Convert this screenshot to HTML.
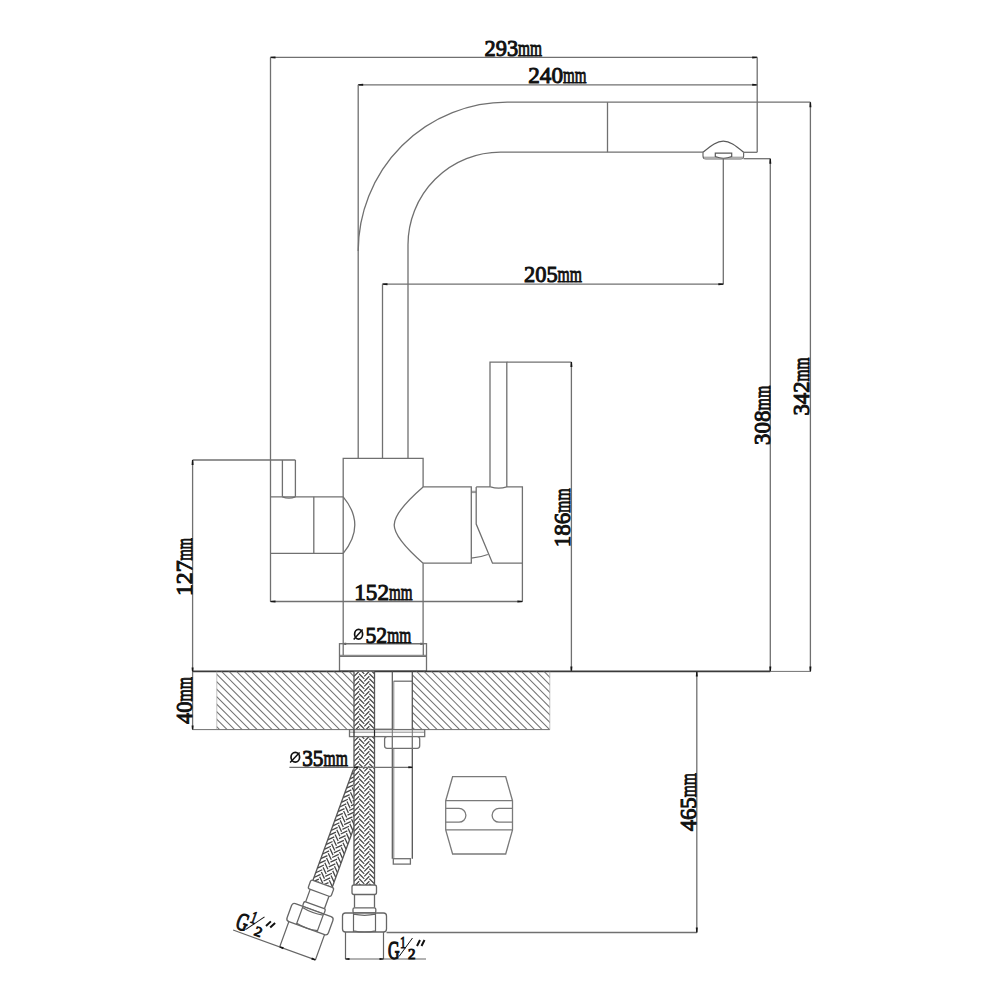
<!DOCTYPE html><html><head><meta charset="utf-8"><style>html,body{margin:0;padding:0;background:#fff;width:1000px;height:1000px;overflow:hidden}svg{display:block}text{font-family:"Liberation Serif",serif;stroke:#111;stroke-width:1.0px}</style></head><body><svg width="1000" height="1000" viewBox="0 0 1000 1000" font-family="Liberation Serif" fill="#111">
<rect width="1000" height="1000" fill="#fff"/>
<line x1="270.5" y1="57.4" x2="757.2" y2="57.4" stroke="#707070" stroke-width="1.3" />
<polygon points="270.50,56.80 275.50,56.40 275.50,58.40 270.50,58.00" fill="#151515"/>
<polygon points="757.20,56.80 752.20,56.40 752.20,58.40 757.20,58.00" fill="#151515"/>
<line x1="358.2" y1="84.8" x2="757.2" y2="84.8" stroke="#707070" stroke-width="1.3" />
<polygon points="358.20,84.20 363.20,83.80 363.20,85.80 358.20,85.40" fill="#151515"/>
<polygon points="757.20,84.20 752.20,83.80 752.20,85.80 757.20,85.40" fill="#151515"/>
<line x1="270.5" y1="57.4" x2="270.5" y2="601.5" stroke="#707070" stroke-width="1.3" />
<line x1="757.2" y1="57.4" x2="757.2" y2="152.3" stroke="#707070" stroke-width="1.3" />
<line x1="358.2" y1="84.8" x2="358.2" y2="251" stroke="#707070" stroke-width="1.3" />
<text x="484.5" y="56" font-size="24.0" textLength="33.6" lengthAdjust="spacingAndGlyphs">293</text><text x="518.1" y="56" font-size="24.0" textLength="24" lengthAdjust="spacingAndGlyphs">mm</text>
<text x="528.3" y="83.3" font-size="24.0" textLength="34.7" lengthAdjust="spacingAndGlyphs">240</text><text x="563.0" y="83.3" font-size="24.0" textLength="23.4" lengthAdjust="spacingAndGlyphs">mm</text>
<path d="M358.2,458.3 L358.2,251 A149,149 0 0 1 507.2,102.2 L810.4,102.2" stroke="#707070" stroke-width="1.3" fill="none" />
<path d="M408,458.3 L408,244.7 A92.5,92.5 0 0 1 500.5,152.2 L703,152.2" stroke="#707070" stroke-width="1.3" fill="none" />
<line x1="607.5" y1="102.2" x2="607.5" y2="152.2" stroke="#707070" stroke-width="1.3" />
<line x1="743.6" y1="152.3" x2="757.2" y2="152.3" stroke="#707070" stroke-width="1.3" />
<path d="M703,152.3 C712,145 717,141.2 723.3,141.2 C729.6,141.2 735,145 743.6,152.3" stroke="#5a5a5a" stroke-width="1.3" fill="none" />
<path d="M703,152.3 L703,156 Q703,159 706,159 L740.6,159 Q743.6,159 743.6,156 L743.6,152.3" stroke="#6a6a6a" stroke-width="1.2" fill="none" />
<rect x="704" y="156.6" width="38.6" height="2.2" rx="0" stroke="#707070" stroke-width="0" fill="#aaa"/>
<path d="M715.3,153.2 L731.7,153.2 L731.7,156.5 Q723.5,160 715.3,156.5 Z" stroke="#5a5a5a" stroke-width="1.2" fill="#fff" />
<line x1="723.3" y1="159" x2="723.3" y2="284.2" stroke="#707070" stroke-width="1.3" />
<line x1="743.6" y1="158.7" x2="770.3" y2="158.7" stroke="#707070" stroke-width="1.3" />
<line x1="382.5" y1="284.2" x2="723.3" y2="284.2" stroke="#707070" stroke-width="1.3" />
<polygon points="382.50,283.60 387.50,283.20 387.50,285.20 382.50,284.80" fill="#151515"/>
<polygon points="723.30,283.60 718.30,283.20 718.30,285.20 723.30,284.80" fill="#151515"/>
<line x1="382.5" y1="284.2" x2="382.5" y2="458.3" stroke="#707070" stroke-width="1.3" />
<text x="524" y="282.4" font-size="24.0" textLength="33.6" lengthAdjust="spacingAndGlyphs">205</text><text x="557.6" y="282.4" font-size="24.0" textLength="24.4" lengthAdjust="spacingAndGlyphs">mm</text>
<line x1="770.3" y1="158.7" x2="770.3" y2="671.5" stroke="#707070" stroke-width="1.3" />
<polygon points="769.70,158.70 769.30,163.70 771.30,163.70 770.90,158.70" fill="#151515"/>
<polygon points="769.70,671.50 769.30,666.50 771.30,666.50 770.90,671.50" fill="#151515"/>
<line x1="810.4" y1="102.2" x2="810.4" y2="671.5" stroke="#707070" stroke-width="1.3" />
<polygon points="809.80,102.20 809.40,107.20 811.40,107.20 811.00,102.20" fill="#151515"/>
<polygon points="809.80,671.50 809.40,666.50 811.40,666.50 811.00,671.50" fill="#151515"/>
<g transform="translate(769.5,445) rotate(-90)"><text x="0" y="0" font-size="24.0" textLength="34.5" lengthAdjust="spacingAndGlyphs">308</text><text x="34.5" y="0" font-size="24.0" textLength="24.8" lengthAdjust="spacingAndGlyphs">mm</text></g>
<g transform="translate(809.3,415.5) rotate(-90)"><text x="0" y="0" font-size="24.0" textLength="34" lengthAdjust="spacingAndGlyphs">342</text><text x="34" y="0" font-size="24.0" textLength="24" lengthAdjust="spacingAndGlyphs">mm</text></g>
<path d="M343.2,643.5 L343.2,458.3 L423.1,458.3 L423.1,486.9" stroke="#707070" stroke-width="1.3" fill="none" />
<path d="M423.1,563.2 L423.1,643.5" stroke="#707070" stroke-width="1.3" fill="none" />
<line x1="192.6" y1="460" x2="295.4" y2="460" stroke="#707070" stroke-width="1.3" />
<path d="M282.4,496.8 L282.4,460 M295.4,460 L295.4,496.8" stroke="#707070" stroke-width="1.3" fill="none" />
<path d="M282.4,496.8 Q289,499.5 295.4,496.8" stroke="#707070" stroke-width="1.3" fill="none" />
<line x1="270.5" y1="496.8" x2="343.2" y2="496.8" stroke="#707070" stroke-width="1.3" />
<line x1="270.5" y1="553.4" x2="343.2" y2="553.4" stroke="#707070" stroke-width="1.3" />
<line x1="313.8" y1="496.8" x2="313.8" y2="553.4" stroke="#707070" stroke-width="1.3" />
<path d="M343.2,496.8 C350,505 354.8,515 354.8,525 C354.8,535 350,545 343.2,553.4" stroke="#707070" stroke-width="1.3" fill="none" />
<path d="M423.1,486.9 L471.3,486.9 L471.3,563.2 L423.1,563.2" stroke="#707070" stroke-width="1.3" fill="none" />
<path d="M423.1,486.9 C408,500 394.2,514 394.2,525 C394.2,536 408,550 423.1,563.2" stroke="#707070" stroke-width="1.3" fill="none" />
<line x1="471.3" y1="491.3" x2="476.2" y2="491.3" stroke="#707070" stroke-width="0.8" />
<line x1="471.3" y1="492.6" x2="476.2" y2="492.6" stroke="#707070" stroke-width="0.8" />
<path d="M471.3,558.2 Q480,557.5 487.8,554.5" stroke="#707070" stroke-width="1.3" fill="none" />
<path d="M476.2,486.9 L476.2,524 L492.5,563.2 L522.4,563.2 L522.4,601.5" stroke="#707070" stroke-width="1.3" fill="none" />
<path d="M476.2,486.9 L490.5,486.9 M506.8,486.9 L522.4,486.9 L522.4,563.2" stroke="#707070" stroke-width="1.3" fill="none" />
<path d="M490.5,486.9 Q498.6,489.5 506.8,486.9" stroke="#707070" stroke-width="1.3" fill="none" />
<path d="M490,486.9 L490,362.1 L506.8,362.1 L506.8,486.9" stroke="#707070" stroke-width="1.3" fill="none" />
<line x1="506.8" y1="362.1" x2="571.4" y2="362.1" stroke="#707070" stroke-width="1.3" />
<line x1="571.4" y1="362.1" x2="571.4" y2="671.5" stroke="#707070" stroke-width="1.3" />
<polygon points="570.80,362.10 570.40,367.10 572.40,367.10 572.00,362.10" fill="#151515"/>
<polygon points="570.80,671.50 570.40,666.50 572.40,666.50 572.00,671.50" fill="#151515"/>
<g transform="translate(570,547.2) rotate(-90)"><text x="0" y="0" font-size="24.0" textLength="34.5" lengthAdjust="spacingAndGlyphs">186</text><text x="34.5" y="0" font-size="24.0" textLength="24.2" lengthAdjust="spacingAndGlyphs">mm</text></g>
<line x1="192.6" y1="460" x2="192.6" y2="671.5" stroke="#707070" stroke-width="1.3" />
<polygon points="192.00,460.00 191.60,465.00 193.60,465.00 193.20,460.00" fill="#151515"/>
<g transform="translate(192,596) rotate(-90)"><text x="0" y="0" font-size="24.0" textLength="35.5" lengthAdjust="spacingAndGlyphs">127</text><text x="35.5" y="0" font-size="24.0" textLength="22.5" lengthAdjust="spacingAndGlyphs">mm</text></g>
<line x1="270.5" y1="601.5" x2="522.4" y2="601.5" stroke="#707070" stroke-width="1.3" />
<polygon points="270.50,600.90 275.50,600.50 275.50,602.50 270.50,602.10" fill="#151515"/>
<polygon points="522.40,600.90 517.40,600.50 517.40,602.50 522.40,602.10" fill="#151515"/>
<text x="354.3" y="600" font-size="24.0" textLength="34.7" lengthAdjust="spacingAndGlyphs">152</text><text x="389.0" y="600" font-size="24.0" textLength="23.5" lengthAdjust="spacingAndGlyphs">mm</text>
<line x1="343.2" y1="643.7" x2="423.3" y2="643.7" stroke="#707070" stroke-width="1.3" />
<polygon points="343.20,643.10 346.20,642.70 346.20,644.70 343.20,644.30" fill="#151515"/>
<polygon points="423.30,643.10 420.30,642.70 420.30,644.70 423.30,644.30" fill="#151515"/>
<rect x="339.5" y="643.7" width="87" height="27.4" rx="0" stroke="#707070" stroke-width="1.3" fill="none"/>
<line x1="339.5" y1="655.3" x2="426.5" y2="655.3" stroke="#707070" stroke-width="1.0" />
<line x1="339.5" y1="656.5" x2="426.5" y2="656.5" stroke="#707070" stroke-width="1.0" />
<line x1="343.2" y1="643.7" x2="343.2" y2="655.3" stroke="#707070" stroke-width="1.3" />
<line x1="423.3" y1="643.7" x2="423.3" y2="655.3" stroke="#707070" stroke-width="1.3" />
<ellipse cx="358.6" cy="634.3" rx="4.0" ry="4.9" stroke="#111" stroke-width="1.7" fill="none"/>
<line x1="353.70000000000005" y1="639.5999999999999" x2="362.6" y2="629.4" stroke="#111" stroke-width="1.5"/>
<text x="365.5" y="642.8" font-size="24.0" textLength="21.7" lengthAdjust="spacingAndGlyphs">52</text><text x="387.2" y="642.8" font-size="24.0" textLength="24" lengthAdjust="spacingAndGlyphs">mm</text>
<line x1="192.6" y1="671.4" x2="770.3" y2="671.4" stroke="#3a3a3a" stroke-width="1.6" />
<line x1="770.3" y1="671.4" x2="810.4" y2="671.4" stroke="#707070" stroke-width="1.0" />
<line x1="192.6" y1="729.6" x2="549.8" y2="729.6" stroke="#707070" stroke-width="1.0" />
<clipPath id="hl"><rect x="216.8" y="671.4" width="137.2" height="58.2"/></clipPath>
<clipPath id="hr"><rect x="412.3" y="671.4" width="137.5" height="58.2"/></clipPath>
<g clip-path="url(#hl)" stroke="#707070" stroke-width="1.05"><line x1="161.10" y1="671" x2="220.10" y2="730"/><line x1="168.60" y1="671" x2="227.60" y2="730"/><line x1="176.10" y1="671" x2="235.10" y2="730"/><line x1="183.60" y1="671" x2="242.60" y2="730"/><line x1="191.10" y1="671" x2="250.10" y2="730"/><line x1="198.60" y1="671" x2="257.60" y2="730"/><line x1="206.10" y1="671" x2="265.10" y2="730"/><line x1="213.60" y1="671" x2="272.60" y2="730"/><line x1="221.10" y1="671" x2="280.10" y2="730"/><line x1="228.60" y1="671" x2="287.60" y2="730"/><line x1="236.10" y1="671" x2="295.10" y2="730"/><line x1="243.60" y1="671" x2="302.60" y2="730"/><line x1="251.10" y1="671" x2="310.10" y2="730"/><line x1="258.60" y1="671" x2="317.60" y2="730"/><line x1="266.10" y1="671" x2="325.10" y2="730"/><line x1="273.60" y1="671" x2="332.60" y2="730"/><line x1="281.10" y1="671" x2="340.10" y2="730"/><line x1="288.60" y1="671" x2="347.60" y2="730"/><line x1="296.10" y1="671" x2="355.10" y2="730"/><line x1="303.60" y1="671" x2="362.60" y2="730"/><line x1="311.10" y1="671" x2="370.10" y2="730"/><line x1="318.60" y1="671" x2="377.60" y2="730"/><line x1="326.10" y1="671" x2="385.10" y2="730"/><line x1="333.60" y1="671" x2="392.60" y2="730"/><line x1="341.10" y1="671" x2="400.10" y2="730"/><line x1="348.60" y1="671" x2="407.60" y2="730"/></g>
<g clip-path="url(#hr)" stroke="#707070" stroke-width="1.05"><line x1="356.10" y1="671" x2="415.10" y2="730"/><line x1="363.60" y1="671" x2="422.60" y2="730"/><line x1="371.10" y1="671" x2="430.10" y2="730"/><line x1="378.60" y1="671" x2="437.60" y2="730"/><line x1="386.10" y1="671" x2="445.10" y2="730"/><line x1="393.60" y1="671" x2="452.60" y2="730"/><line x1="401.10" y1="671" x2="460.10" y2="730"/><line x1="408.60" y1="671" x2="467.60" y2="730"/><line x1="416.10" y1="671" x2="475.10" y2="730"/><line x1="423.60" y1="671" x2="482.60" y2="730"/><line x1="431.10" y1="671" x2="490.10" y2="730"/><line x1="438.60" y1="671" x2="497.60" y2="730"/><line x1="446.10" y1="671" x2="505.10" y2="730"/><line x1="453.60" y1="671" x2="512.60" y2="730"/><line x1="461.10" y1="671" x2="520.10" y2="730"/><line x1="468.60" y1="671" x2="527.60" y2="730"/><line x1="476.10" y1="671" x2="535.10" y2="730"/><line x1="483.60" y1="671" x2="542.60" y2="730"/><line x1="491.10" y1="671" x2="550.10" y2="730"/><line x1="498.60" y1="671" x2="557.60" y2="730"/><line x1="506.10" y1="671" x2="565.10" y2="730"/><line x1="513.60" y1="671" x2="572.60" y2="730"/><line x1="521.10" y1="671" x2="580.10" y2="730"/><line x1="528.60" y1="671" x2="587.60" y2="730"/><line x1="536.10" y1="671" x2="595.10" y2="730"/><line x1="543.60" y1="671" x2="602.60" y2="730"/><line x1="551.10" y1="671" x2="610.10" y2="730"/></g>
<line x1="216.8" y1="671.4" x2="216.8" y2="729.6" stroke="#999" stroke-width="0.6" />
<line x1="549.8" y1="671.4" x2="549.8" y2="729.6" stroke="#999" stroke-width="0.6" />
<g transform="translate(279.6,946.8) rotate(20) translate(-345.4,-958.9)">
<clipPath id="hA"><rect x="354" y="767" width="20.5" height="118"/></clipPath><g clip-path="url(#hA)"><rect x="354" y="767" width="20.5" height="118" fill="#fff"/><path d="M354.00,757.00 L359.12,751.88 M359.12,754.38 L364.25,759.50 M364.25,757.00 L369.38,751.88 M369.38,754.38 L374.50,759.50 M354.00,762.00 L359.12,756.88 M359.12,759.38 L364.25,764.50 M364.25,762.00 L369.38,756.88 M369.38,759.38 L374.50,764.50 M354.00,767.00 L359.12,761.88 M359.12,764.38 L364.25,769.50 M364.25,767.00 L369.38,761.88 M369.38,764.38 L374.50,769.50 M354.00,772.00 L359.12,766.88 M359.12,769.38 L364.25,774.50 M364.25,772.00 L369.38,766.88 M369.38,769.38 L374.50,774.50 M354.00,777.00 L359.12,771.88 M359.12,774.38 L364.25,779.50 M364.25,777.00 L369.38,771.88 M369.38,774.38 L374.50,779.50 M354.00,782.00 L359.12,776.88 M359.12,779.38 L364.25,784.50 M364.25,782.00 L369.38,776.88 M369.38,779.38 L374.50,784.50 M354.00,787.00 L359.12,781.88 M359.12,784.38 L364.25,789.50 M364.25,787.00 L369.38,781.88 M369.38,784.38 L374.50,789.50 M354.00,792.00 L359.12,786.88 M359.12,789.38 L364.25,794.50 M364.25,792.00 L369.38,786.88 M369.38,789.38 L374.50,794.50 M354.00,797.00 L359.12,791.88 M359.12,794.38 L364.25,799.50 M364.25,797.00 L369.38,791.88 M369.38,794.38 L374.50,799.50 M354.00,802.00 L359.12,796.88 M359.12,799.38 L364.25,804.50 M364.25,802.00 L369.38,796.88 M369.38,799.38 L374.50,804.50 M354.00,807.00 L359.12,801.88 M359.12,804.38 L364.25,809.50 M364.25,807.00 L369.38,801.88 M369.38,804.38 L374.50,809.50 M354.00,812.00 L359.12,806.88 M359.12,809.38 L364.25,814.50 M364.25,812.00 L369.38,806.88 M369.38,809.38 L374.50,814.50 M354.00,817.00 L359.12,811.88 M359.12,814.38 L364.25,819.50 M364.25,817.00 L369.38,811.88 M369.38,814.38 L374.50,819.50 M354.00,822.00 L359.12,816.88 M359.12,819.38 L364.25,824.50 M364.25,822.00 L369.38,816.88 M369.38,819.38 L374.50,824.50 M354.00,827.00 L359.12,821.88 M359.12,824.38 L364.25,829.50 M364.25,827.00 L369.38,821.88 M369.38,824.38 L374.50,829.50 M354.00,832.00 L359.12,826.88 M359.12,829.38 L364.25,834.50 M364.25,832.00 L369.38,826.88 M369.38,829.38 L374.50,834.50 M354.00,837.00 L359.12,831.88 M359.12,834.38 L364.25,839.50 M364.25,837.00 L369.38,831.88 M369.38,834.38 L374.50,839.50 M354.00,842.00 L359.12,836.88 M359.12,839.38 L364.25,844.50 M364.25,842.00 L369.38,836.88 M369.38,839.38 L374.50,844.50 M354.00,847.00 L359.12,841.88 M359.12,844.38 L364.25,849.50 M364.25,847.00 L369.38,841.88 M369.38,844.38 L374.50,849.50 M354.00,852.00 L359.12,846.88 M359.12,849.38 L364.25,854.50 M364.25,852.00 L369.38,846.88 M369.38,849.38 L374.50,854.50 M354.00,857.00 L359.12,851.88 M359.12,854.38 L364.25,859.50 M364.25,857.00 L369.38,851.88 M369.38,854.38 L374.50,859.50 M354.00,862.00 L359.12,856.88 M359.12,859.38 L364.25,864.50 M364.25,862.00 L369.38,856.88 M369.38,859.38 L374.50,864.50 M354.00,867.00 L359.12,861.88 M359.12,864.38 L364.25,869.50 M364.25,867.00 L369.38,861.88 M369.38,864.38 L374.50,869.50 M354.00,872.00 L359.12,866.88 M359.12,869.38 L364.25,874.50 M364.25,872.00 L369.38,866.88 M369.38,869.38 L374.50,874.50 M354.00,877.00 L359.12,871.88 M359.12,874.38 L364.25,879.50 M364.25,877.00 L369.38,871.88 M369.38,874.38 L374.50,879.50 M354.00,882.00 L359.12,876.88 M359.12,879.38 L364.25,884.50 M364.25,882.00 L369.38,876.88 M369.38,879.38 L374.50,884.50 M354.00,887.00 L359.12,881.88 M359.12,884.38 L364.25,889.50 M364.25,887.00 L369.38,881.88 M369.38,884.38 L374.50,889.50 M354.00,892.00 L359.12,886.88 M359.12,889.38 L364.25,894.50 M364.25,892.00 L369.38,886.88 M369.38,889.38 L374.50,894.50 " stroke="#474747" stroke-width="1.3" fill="none"/></g><line x1="354" y1="767" x2="354" y2="885" stroke="#555" stroke-width="1.3"/><line x1="374.5" y1="767" x2="374.5" y2="885" stroke="#555" stroke-width="1.3"/>
<rect x="352" y="885" width="24.5" height="9.5" rx="2" stroke="#666" stroke-width="1.3" fill="#fff"/><path d="M354.5,894.5 L354.5,907.8 M374.5,894.5 L374.5,907.8" stroke="#666" stroke-width="1.3"/><rect x="353" y="907.8" width="22.8" height="5.2" rx="1.5" stroke="#666" stroke-width="1.3" fill="#fff"/><rect x="342.5" y="913" width="44" height="19" rx="3" stroke="#666" stroke-width="1.3" fill="#fff"/><path d="M353.5,913 L353.5,932 M375.5,913 L375.5,932 M353.5,914.2 Q364.5,916.5 375.5,914.2 M353.5,930.8 Q364.5,933.2 375.5,930.8" stroke="#666" stroke-width="1.2" fill="none"/><path d="M345.5,932 L345.5,959 M383.5,932 L383.5,959" stroke="#666" stroke-width="1.2"/>
<line x1="296" y1="959" x2="383.5" y2="959" stroke="#666" stroke-width="1.2"/>
<polygon points="345.50,958.40 349.50,958.00 349.50,960.00 345.50,959.60" fill="#151515"/>
<polygon points="383.50,958.40 379.50,958.00 379.50,960.00 383.50,959.60" fill="#151515"/>
</g>
<clipPath id="hS"><rect x="354" y="671.4" width="20.5" height="213.60000000000002"/></clipPath><g clip-path="url(#hS)"><rect x="354" y="671.4" width="20.5" height="213.60000000000002" fill="#fff"/><path d="M354.00,661.40 L359.12,656.27 M359.12,658.77 L364.25,663.90 M364.25,661.40 L369.38,656.27 M369.38,658.77 L374.50,663.90 M354.00,666.40 L359.12,661.27 M359.12,663.77 L364.25,668.90 M364.25,666.40 L369.38,661.27 M369.38,663.77 L374.50,668.90 M354.00,671.40 L359.12,666.27 M359.12,668.77 L364.25,673.90 M364.25,671.40 L369.38,666.27 M369.38,668.77 L374.50,673.90 M354.00,676.40 L359.12,671.27 M359.12,673.77 L364.25,678.90 M364.25,676.40 L369.38,671.27 M369.38,673.77 L374.50,678.90 M354.00,681.40 L359.12,676.27 M359.12,678.77 L364.25,683.90 M364.25,681.40 L369.38,676.27 M369.38,678.77 L374.50,683.90 M354.00,686.40 L359.12,681.27 M359.12,683.77 L364.25,688.90 M364.25,686.40 L369.38,681.27 M369.38,683.77 L374.50,688.90 M354.00,691.40 L359.12,686.27 M359.12,688.77 L364.25,693.90 M364.25,691.40 L369.38,686.27 M369.38,688.77 L374.50,693.90 M354.00,696.40 L359.12,691.27 M359.12,693.77 L364.25,698.90 M364.25,696.40 L369.38,691.27 M369.38,693.77 L374.50,698.90 M354.00,701.40 L359.12,696.27 M359.12,698.77 L364.25,703.90 M364.25,701.40 L369.38,696.27 M369.38,698.77 L374.50,703.90 M354.00,706.40 L359.12,701.27 M359.12,703.77 L364.25,708.90 M364.25,706.40 L369.38,701.27 M369.38,703.77 L374.50,708.90 M354.00,711.40 L359.12,706.27 M359.12,708.77 L364.25,713.90 M364.25,711.40 L369.38,706.27 M369.38,708.77 L374.50,713.90 M354.00,716.40 L359.12,711.27 M359.12,713.77 L364.25,718.90 M364.25,716.40 L369.38,711.27 M369.38,713.77 L374.50,718.90 M354.00,721.40 L359.12,716.27 M359.12,718.77 L364.25,723.90 M364.25,721.40 L369.38,716.27 M369.38,718.77 L374.50,723.90 M354.00,726.40 L359.12,721.27 M359.12,723.77 L364.25,728.90 M364.25,726.40 L369.38,721.27 M369.38,723.77 L374.50,728.90 M354.00,731.40 L359.12,726.27 M359.12,728.77 L364.25,733.90 M364.25,731.40 L369.38,726.27 M369.38,728.77 L374.50,733.90 M354.00,736.40 L359.12,731.27 M359.12,733.77 L364.25,738.90 M364.25,736.40 L369.38,731.27 M369.38,733.77 L374.50,738.90 M354.00,741.40 L359.12,736.27 M359.12,738.77 L364.25,743.90 M364.25,741.40 L369.38,736.27 M369.38,738.77 L374.50,743.90 M354.00,746.40 L359.12,741.27 M359.12,743.77 L364.25,748.90 M364.25,746.40 L369.38,741.27 M369.38,743.77 L374.50,748.90 M354.00,751.40 L359.12,746.27 M359.12,748.77 L364.25,753.90 M364.25,751.40 L369.38,746.27 M369.38,748.77 L374.50,753.90 M354.00,756.40 L359.12,751.27 M359.12,753.77 L364.25,758.90 M364.25,756.40 L369.38,751.27 M369.38,753.77 L374.50,758.90 M354.00,761.40 L359.12,756.27 M359.12,758.77 L364.25,763.90 M364.25,761.40 L369.38,756.27 M369.38,758.77 L374.50,763.90 M354.00,766.40 L359.12,761.27 M359.12,763.77 L364.25,768.90 M364.25,766.40 L369.38,761.27 M369.38,763.77 L374.50,768.90 M354.00,771.40 L359.12,766.27 M359.12,768.77 L364.25,773.90 M364.25,771.40 L369.38,766.27 M369.38,768.77 L374.50,773.90 M354.00,776.40 L359.12,771.27 M359.12,773.77 L364.25,778.90 M364.25,776.40 L369.38,771.27 M369.38,773.77 L374.50,778.90 M354.00,781.40 L359.12,776.27 M359.12,778.77 L364.25,783.90 M364.25,781.40 L369.38,776.27 M369.38,778.77 L374.50,783.90 M354.00,786.40 L359.12,781.27 M359.12,783.77 L364.25,788.90 M364.25,786.40 L369.38,781.27 M369.38,783.77 L374.50,788.90 M354.00,791.40 L359.12,786.27 M359.12,788.77 L364.25,793.90 M364.25,791.40 L369.38,786.27 M369.38,788.77 L374.50,793.90 M354.00,796.40 L359.12,791.27 M359.12,793.77 L364.25,798.90 M364.25,796.40 L369.38,791.27 M369.38,793.77 L374.50,798.90 M354.00,801.40 L359.12,796.27 M359.12,798.77 L364.25,803.90 M364.25,801.40 L369.38,796.27 M369.38,798.77 L374.50,803.90 M354.00,806.40 L359.12,801.27 M359.12,803.77 L364.25,808.90 M364.25,806.40 L369.38,801.27 M369.38,803.77 L374.50,808.90 M354.00,811.40 L359.12,806.27 M359.12,808.77 L364.25,813.90 M364.25,811.40 L369.38,806.27 M369.38,808.77 L374.50,813.90 M354.00,816.40 L359.12,811.27 M359.12,813.77 L364.25,818.90 M364.25,816.40 L369.38,811.27 M369.38,813.77 L374.50,818.90 M354.00,821.40 L359.12,816.27 M359.12,818.77 L364.25,823.90 M364.25,821.40 L369.38,816.27 M369.38,818.77 L374.50,823.90 M354.00,826.40 L359.12,821.27 M359.12,823.77 L364.25,828.90 M364.25,826.40 L369.38,821.27 M369.38,823.77 L374.50,828.90 M354.00,831.40 L359.12,826.27 M359.12,828.77 L364.25,833.90 M364.25,831.40 L369.38,826.27 M369.38,828.77 L374.50,833.90 M354.00,836.40 L359.12,831.27 M359.12,833.77 L364.25,838.90 M364.25,836.40 L369.38,831.27 M369.38,833.77 L374.50,838.90 M354.00,841.40 L359.12,836.27 M359.12,838.77 L364.25,843.90 M364.25,841.40 L369.38,836.27 M369.38,838.77 L374.50,843.90 M354.00,846.40 L359.12,841.27 M359.12,843.77 L364.25,848.90 M364.25,846.40 L369.38,841.27 M369.38,843.77 L374.50,848.90 M354.00,851.40 L359.12,846.27 M359.12,848.77 L364.25,853.90 M364.25,851.40 L369.38,846.27 M369.38,848.77 L374.50,853.90 M354.00,856.40 L359.12,851.27 M359.12,853.77 L364.25,858.90 M364.25,856.40 L369.38,851.27 M369.38,853.77 L374.50,858.90 M354.00,861.40 L359.12,856.27 M359.12,858.77 L364.25,863.90 M364.25,861.40 L369.38,856.27 M369.38,858.77 L374.50,863.90 M354.00,866.40 L359.12,861.27 M359.12,863.77 L364.25,868.90 M364.25,866.40 L369.38,861.27 M369.38,863.77 L374.50,868.90 M354.00,871.40 L359.12,866.27 M359.12,868.77 L364.25,873.90 M364.25,871.40 L369.38,866.27 M369.38,868.77 L374.50,873.90 M354.00,876.40 L359.12,871.27 M359.12,873.77 L364.25,878.90 M364.25,876.40 L369.38,871.27 M369.38,873.77 L374.50,878.90 M354.00,881.40 L359.12,876.27 M359.12,878.77 L364.25,883.90 M364.25,881.40 L369.38,876.27 M369.38,878.77 L374.50,883.90 M354.00,886.40 L359.12,881.27 M359.12,883.77 L364.25,888.90 M364.25,886.40 L369.38,881.27 M369.38,883.77 L374.50,888.90 M354.00,891.40 L359.12,886.27 M359.12,888.77 L364.25,893.90 M364.25,891.40 L369.38,886.27 M369.38,888.77 L374.50,893.90 " stroke="#474747" stroke-width="1.3" fill="none"/></g><line x1="354" y1="671.4" x2="354" y2="885" stroke="#555" stroke-width="1.3"/><line x1="374.5" y1="671.4" x2="374.5" y2="885" stroke="#555" stroke-width="1.3"/>
<rect x="352" y="885" width="24.5" height="9.5" rx="2" stroke="#666" stroke-width="1.3" fill="#fff"/><path d="M354.5,894.5 L354.5,907.8 M374.5,894.5 L374.5,907.8" stroke="#666" stroke-width="1.3"/><rect x="353" y="907.8" width="22.8" height="5.2" rx="1.5" stroke="#666" stroke-width="1.3" fill="#fff"/><rect x="342.5" y="913" width="44" height="19" rx="3" stroke="#666" stroke-width="1.3" fill="#fff"/><path d="M353.5,913 L353.5,932 M375.5,913 L375.5,932 M353.5,914.2 Q364.5,916.5 375.5,914.2 M353.5,930.8 Q364.5,933.2 375.5,930.8" stroke="#666" stroke-width="1.2" fill="none"/><path d="M345.5,932 L345.5,959 M383.5,932 L383.5,959" stroke="#666" stroke-width="1.2"/>
<line x1="345.5" y1="959" x2="426" y2="959" stroke="#666" stroke-width="1.2" />
<polygon points="345.50,958.40 349.50,958.00 349.50,960.00 345.50,959.60" fill="#151515"/>
<polygon points="383.50,958.40 379.50,958.00 379.50,960.00 383.50,959.60" fill="#151515"/>
<line x1="386.5" y1="932.5" x2="696.8" y2="932.5" stroke="#707070" stroke-width="1.3" />
<line x1="374.5" y1="729.4" x2="392.3" y2="729.4" stroke="#222" stroke-width="1.3" />
<line x1="392.3" y1="671.4" x2="392.3" y2="858.7" stroke="#555" stroke-width="1.2" />
<line x1="393.8" y1="681.2" x2="393.8" y2="858.7" stroke="#777" stroke-width="0.9" />
<line x1="393.6" y1="681.2" x2="412.3" y2="681.2" stroke="#707070" stroke-width="1.3" />
<line x1="412.3" y1="671.4" x2="412.3" y2="858.7" stroke="#555" stroke-width="1.3" />
<rect x="393.3" y="858.7" width="17.1" height="5.4" rx="0" stroke="#707070" stroke-width="1.3" fill="none"/>
<rect x="349.5" y="729.6" width="75.2" height="7" rx="0" stroke="#707070" stroke-width="1.3" fill="#fff"/>
<line x1="349.5" y1="732.2" x2="424.7" y2="732.2" stroke="#707070" stroke-width="0.8" />
<line x1="354" y1="729.6" x2="354" y2="736.6" stroke="#222" stroke-width="1.2" />
<line x1="374.5" y1="729.6" x2="374.5" y2="736.6" stroke="#222" stroke-width="1.2" />
<line x1="392.3" y1="729.6" x2="392.3" y2="736.6" stroke="#707070" stroke-width="1" />
<line x1="412.3" y1="729.6" x2="412.3" y2="736.6" stroke="#707070" stroke-width="1" />
<rect x="384.6" y="736.6" width="35.1" height="11.7" rx="2.5" stroke="#707070" stroke-width="1.3" fill="#fff"/>
<line x1="392.3" y1="736.6" x2="392.3" y2="748.3" stroke="#707070" stroke-width="1.3" />
<line x1="412.3" y1="736.6" x2="412.3" y2="748.3" stroke="#707070" stroke-width="1.3" />
<line x1="289.4" y1="767.3" x2="412.3" y2="767.3" stroke="#707070" stroke-width="1.3" />
<polygon points="354.00,766.70 358.00,766.30 358.00,768.30 354.00,767.90" fill="#151515"/>
<polygon points="412.30,766.70 408.30,766.30 408.30,768.30 412.30,767.90" fill="#151515"/>
<ellipse cx="295.3" cy="757.3" rx="4.3" ry="4.9" stroke="#111" stroke-width="1.7" fill="none"/>
<line x1="290.1" y1="762.5999999999999" x2="299.6" y2="752.4" stroke="#111" stroke-width="1.5"/>
<text x="302.2" y="765.6" font-size="24.0" textLength="21.3" lengthAdjust="spacingAndGlyphs">35</text><text x="323.5" y="765.6" font-size="24.0" textLength="24.3" lengthAdjust="spacingAndGlyphs">mm</text>
<path d="M452.6,776.7 L505.7,776.7 L512.5,800.7 L512.5,829.9 L505.7,854 L452.6,854 L445.7,829.9 L445.7,800.7 Z M445.7,800.7 L512.5,800.7 M445.7,829.9 L512.5,829.9" stroke="#7a7a7a" stroke-width="1.3" fill="none"/>
<path d="M445.7,808.4 L459,808.4 A6.9,6.9 0 0 1 459,822.2 L445.7,822.2 M512.5,808.4 L499,808.4 A6.9,6.9 0 0 0 499,822.2 L512.5,822.2" stroke="#7a7a7a" stroke-width="1.3" fill="none"/>
<line x1="696.8" y1="671.5" x2="696.8" y2="932.5" stroke="#707070" stroke-width="1.3" />
<polygon points="696.20,671.50 695.80,676.50 697.80,676.50 697.40,671.50" fill="#151515"/>
<polygon points="696.20,932.50 695.80,927.50 697.80,927.50 697.40,932.50" fill="#151515"/>
<g transform="translate(696,831.3) rotate(-90)"><text x="0" y="0" font-size="24.0" textLength="34" lengthAdjust="spacingAndGlyphs">465</text><text x="34" y="0" font-size="24.0" textLength="24.3" lengthAdjust="spacingAndGlyphs">mm</text></g>
<line x1="192.6" y1="671.5" x2="192.6" y2="729.6" stroke="#707070" stroke-width="1.3" />
<polygon points="192.00,671.50 191.60,667.50 193.60,667.50 193.20,671.50" fill="#151515"/>
<polygon points="192.00,729.60 191.60,725.60 193.60,725.60 193.20,729.60" fill="#151515"/>
<g transform="translate(192,724) rotate(-90)"><text x="0" y="0" font-size="24.0" textLength="22.5" lengthAdjust="spacingAndGlyphs">40</text><text x="22.5" y="0" font-size="24.0" textLength="24.5" lengthAdjust="spacingAndGlyphs">mm</text></g>
<text x="388" y="958.5" font-size="24.8" textLength="11.6" lengthAdjust="spacingAndGlyphs" style="stroke-width:1.3px">G</text><text x="400" y="948.0" font-size="17.5" textLength="6" lengthAdjust="spacingAndGlyphs" style="stroke-width:0.9px">1</text><line x1="399" y1="956.5" x2="412.5" y2="938.0" stroke="#111" stroke-width="1"/><text x="408" y="958.5" font-size="13.8" textLength="7.5" lengthAdjust="spacingAndGlyphs" style="stroke-width:0.9px">2</text><path d="M417,946.0 L420,940.0 M421.5,946.0 L424.5,940.0" stroke="#111" stroke-width="2"/>
<g transform="translate(279.6,946.8) rotate(20) translate(-345.4,-958.9)"><text x="296.5" y="956.5" font-size="24.8" textLength="11.6" lengthAdjust="spacingAndGlyphs" style="stroke-width:1.3px">G</text><text x="308.5" y="946.0" font-size="17.5" textLength="6" lengthAdjust="spacingAndGlyphs" style="stroke-width:0.9px">1</text><line x1="307.5" y1="954.5" x2="321.0" y2="936.0" stroke="#111" stroke-width="1"/><text x="316.5" y="956.5" font-size="13.8" textLength="7.5" lengthAdjust="spacingAndGlyphs" style="stroke-width:0.9px">2</text><path d="M325.5,944.0 L328.5,938.0 M330.0,944.0 L333.0,938.0" stroke="#111" stroke-width="2"/></g>
</svg></body></html>
